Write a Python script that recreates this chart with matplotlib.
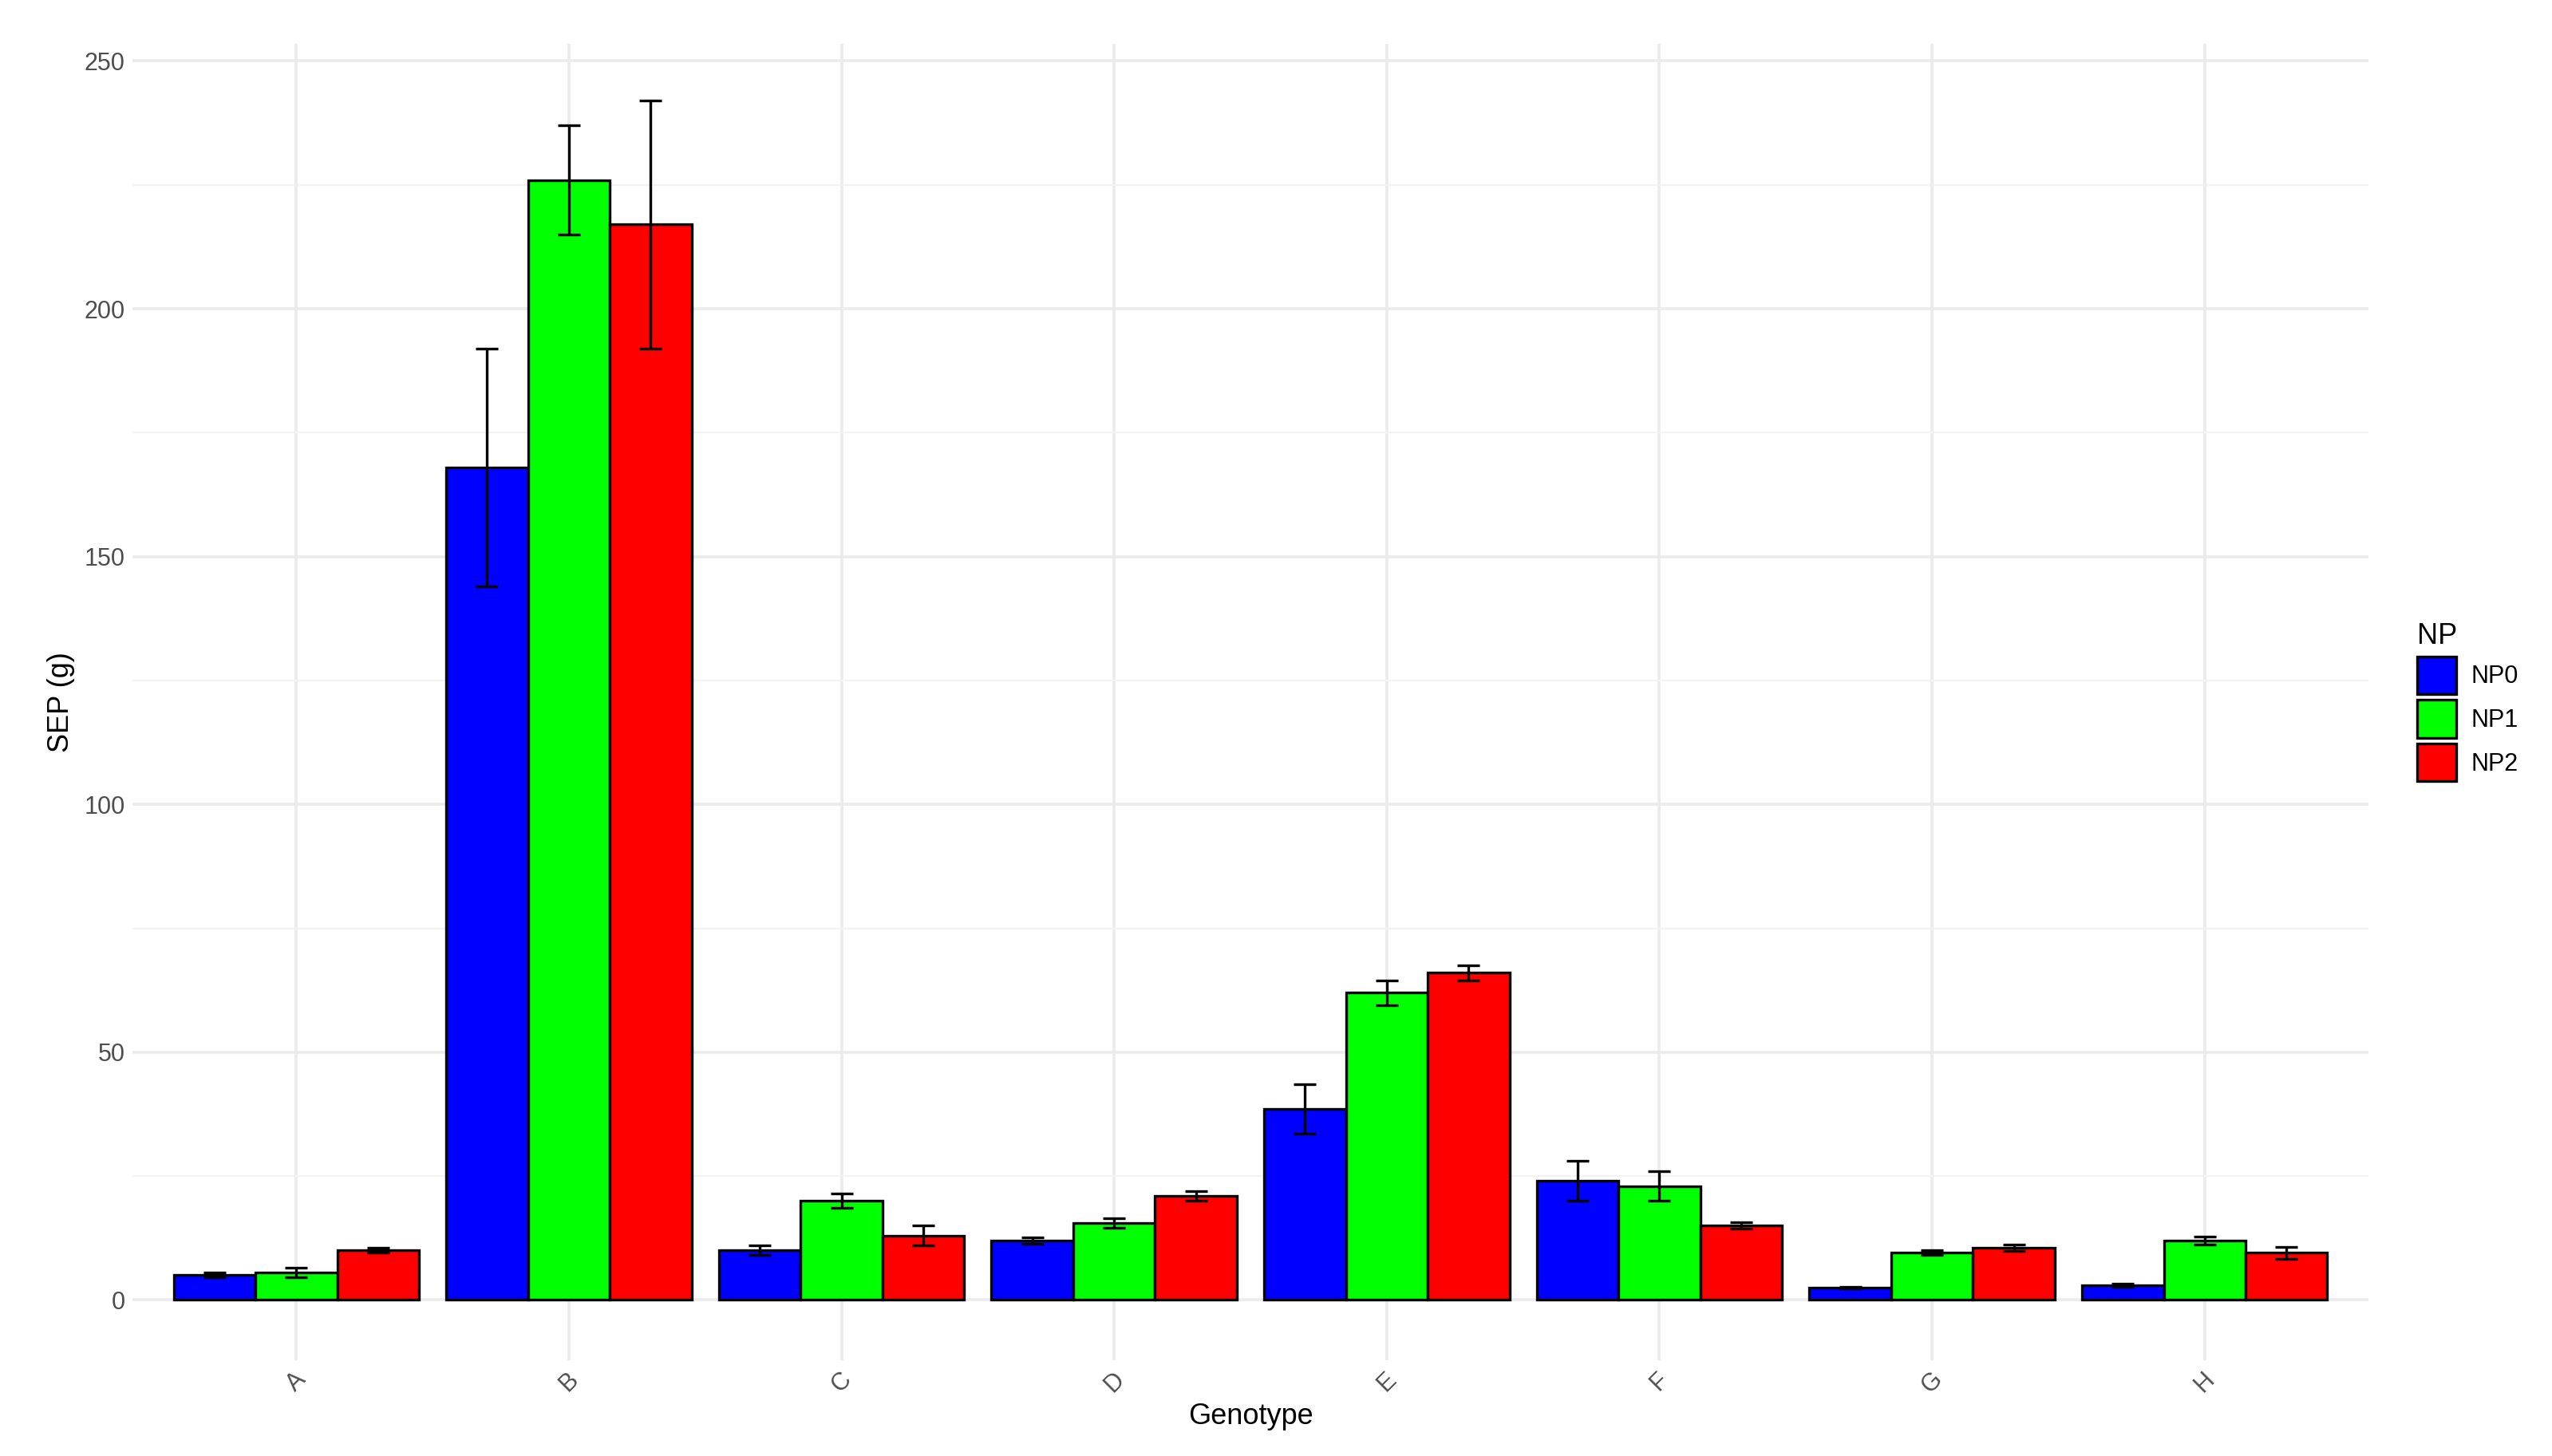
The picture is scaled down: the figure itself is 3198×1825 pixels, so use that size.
import matplotlib.pyplot as plt
import numpy as np

genotypes = ['A', 'B', 'C', 'D', 'E', 'F', 'G', 'H']
groups = ['NP0', 'NP1', 'NP2']
colors = ['#0000FF', '#00FF00', '#FF0000']

np0 = [5.0, 168.0, 10.0, 12.0, 38.5, 24.0, 2.5, 3.0]
np0_err = [0.5, 24.0, 1.0, 0.6, 5.0, 4.0, 0.2, 0.3]
np1 = [5.5, 226.0, 20.0, 15.5, 62.0, 23.0, 9.5, 12.0]
np1_err = [1.0, 11.0, 1.5, 1.0, 2.5, 3.0, 0.5, 0.8]
np2 = [10.0, 217.0, 13.0, 21.0, 66.0, 15.0, 10.5, 9.5]
np2_err = [0.5, 25.0, 2.0, 1.0, 1.5, 0.6, 0.6, 1.2]

means = [np0, np1, np2]
errs = [np0_err, np1_err, np2_err]

plt.rcParams['font.family'] = ['Liberation Sans', 'DejaVu Sans']
fig = plt.figure(figsize=(15.99, 9.125), dpi=200)
ax = fig.add_axes([0.052, 0.066, 0.876, 0.904])

x = np.arange(len(genotypes))
w = 0.3
for i, g in enumerate(groups):
    pos = x + (i - 1) * w
    ax.bar(pos, means[i], width=w, color=colors[i], edgecolor='black', linewidth=1.2, label=g, zorder=2)
    ax.errorbar(pos, means[i], yerr=errs[i], fmt='none', ecolor='black', elinewidth=1.2, capsize=5, capthick=1.2, zorder=3)

ax.set_xlim(-0.6, 7.6)
ax.set_ylim(-12.1, 253.5)
ax.set_yticks([0, 50, 100, 150, 200, 250])
ax.set_yticks([25, 75, 125, 175, 225], minor=True)
ax.set_xticks(x)
ax.set_xticklabels(genotypes, rotation=45, color='#4d4d4d', fontsize=11)
ax.tick_params(axis='y', labelcolor='#4d4d4d', labelsize=11)
ax.tick_params(which='both', length=0)
ax.grid(True, which='major', color='#ebebeb', linewidth=1.3, zorder=0)
ax.grid(True, which='minor', axis='y', color='#f3f3f3', linewidth=0.8, zorder=0)
for s in ax.spines.values():
    s.set_visible(False)
ax.set_axisbelow(True)
ax.set_xlabel('Genotype', fontsize=13, labelpad=2)
ax.set_ylabel('SEP (g)', fontsize=13)

leg = ax.legend(title='NP', loc='center left', bbox_to_anchor=(1.012, 0.5), frameon=False,
                fontsize=11, title_fontsize=13, handlelength=1.6, handleheight=2.0,
                labelspacing=0.25, handletextpad=0.6)
leg._legend_box.align = 'left'

fig.savefig('out.png', dpi=200)
